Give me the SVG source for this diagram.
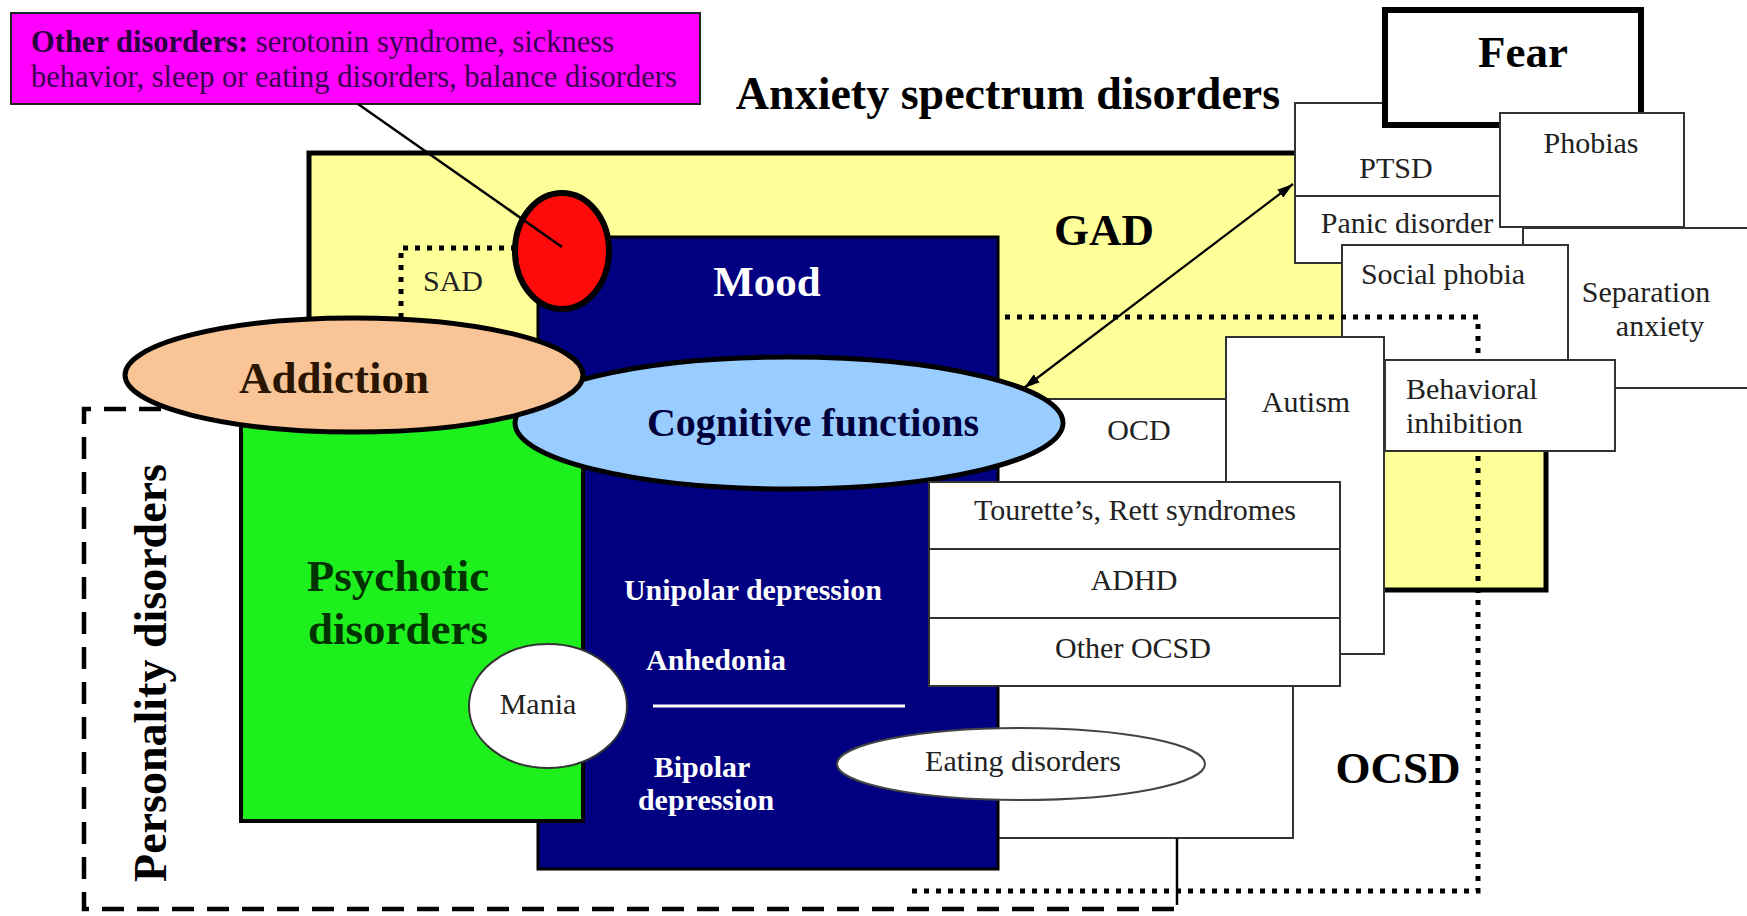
<svg xmlns="http://www.w3.org/2000/svg" width="1747" height="916" viewBox="0 0 1747 916">
<defs>
<style>
text { font-family: "Liberation Serif", "Times New Roman", serif; }
.box { fill: #fff; stroke: #333; stroke-width: 2; }
.t { font-size: 30px; fill: #222; text-anchor: middle; }
.tl { font-size: 30px; fill: #222; }
.big { font-size: 45px; font-weight: bold; text-anchor: middle; fill: #000; }
.w { font-size: 30px; font-weight: bold; fill: #fff; text-anchor: middle; }
.dot { fill: none; stroke: #000; stroke-width: 5; stroke-dasharray: 5 7; }
.dash { fill: none; stroke: #000; stroke-width: 4.5; stroke-dasharray: 22 13; }
</style>
<marker id="ah" viewBox="0 0 16 10" refX="16" refY="5" markerWidth="16" markerHeight="10" markerUnits="userSpaceOnUse" orient="auto-start-reverse"><path d="M0,0 L16,5 L0,10 z" fill="#000"/></marker>
</defs>
<rect width="1747" height="916" fill="#fff"/>

<g id="personality">
<path class="dash" d="M1174,909 H84 V409 H200"/>
<text class="big" font-size="46" style="font-size:46px" transform="translate(166,673) rotate(-90)">Personality disorders</text>
</g>

<g id="gad">
<rect x="309" y="153" width="1237" height="437" fill="#FFFF99" stroke="#000" stroke-width="5"/>
<text class="big" x="1104" y="245">GAD</text>
</g>

<g id="sad">
<path class="dot" d="M540,248 H401 V345"/>
<text class="t" x="453" y="291">SAD</text>
</g>

<g id="separation">
<rect class="box" x="1480" y="228" width="290" height="160"/>
<text class="t" x="1646" y="302">Separation</text>
<text class="t" x="1660" y="336">anxiety</text>
</g>
<g id="ptsd">
<rect class="box" x="1295" y="103" width="215" height="93"/>
<text class="t" x="1396" y="178">PTSD</text>
</g>
<g id="panic">
<rect class="box" x="1295" y="196" width="228" height="67"/>
<text class="t" x="1407" y="233">Panic disorder</text>
</g>
<g id="fear">
<rect x="1385" y="10" width="256" height="115" fill="#fff" stroke="#000" stroke-width="6"/>
<text class="big" x="1523" y="67">Fear</text>
</g>
<g id="phobias">
<rect class="box" x="1500" y="113" width="184" height="114"/>
<text class="t" x="1591" y="153">Phobias</text>
</g>
<g id="social">
<rect class="box" x="1342" y="245" width="226" height="125"/>
<text class="t" x="1443" y="284">Social phobia</text>
</g>

<g id="ocsd">
<path class="dot" d="M1005,317 H1478 V891 H905"/>
<text class="big" x="1398" y="783">OCSD</text>
</g>

<g id="ocd">
<rect class="box" x="990" y="399" width="303" height="439"/>
<line x1="1177" y1="838" x2="1177" y2="905" stroke="#000" stroke-width="2.5"/>
<text class="t" x="1139" y="440">OCD</text>
</g>

<g id="autism">
<rect class="box" x="1226" y="337" width="158" height="317"/>
<text class="t" x="1306" y="412">Autism</text>
</g>
<g id="behavioral">
<rect class="box" x="1385" y="360" width="230" height="91"/>
<text class="tl" x="1406" y="399">Behavioral</text>
<text class="tl" x="1406" y="433">inhibition</text>
</g>

<g id="mood">
<rect x="538" y="237" width="460" height="632" fill="#000080" stroke="#000" stroke-width="3"/>
<text x="767" y="296" font-size="43" font-weight="bold" fill="#fff" text-anchor="middle">Mood</text>
<text class="w" x="753" y="600">Unipolar depression</text>
<text class="w" x="716" y="670">Anhedonia</text>
<line x1="653" y1="706" x2="905" y2="706" stroke="#fff" stroke-width="3"/>
<text class="w" x="702" y="777">Bipolar</text>
<text class="w" x="706" y="810">depression</text>
</g>

<g id="psychotic">
<rect x="241" y="409" width="342" height="412" fill="#1EF01E" stroke="#000" stroke-width="4"/>
<text class="big" x="398" y="591" style="fill:#003300">Psychotic</text>
<text class="big" x="398" y="644" style="fill:#003300">disorders</text>
</g>

<g id="other-marker">
<ellipse cx="562" cy="251" rx="47" ry="58" fill="#FF0A0A" stroke="#000" stroke-width="6"/>
</g>

<g id="cognitive">
<ellipse cx="789" cy="423" rx="274" ry="66" fill="#99CCFF" stroke="#000" stroke-width="5"/>
<text x="813" y="436" font-size="40" font-weight="bold" fill="#00003a" text-anchor="middle">Cognitive functions</text>
</g>

<g id="addiction">
<ellipse cx="354" cy="375" rx="229" ry="57" fill="#F9C597" stroke="#000" stroke-width="5"/>
<text class="big" x="334" y="393" style="fill:#2a1500">Addiction</text>
</g>

<g id="tourette">
<rect class="box" x="929" y="482" width="411" height="67"/>
<text class="t" x="1135" y="520">Tourette’s, Rett syndromes</text>
</g>
<g id="adhd">
<rect class="box" x="929" y="549" width="411" height="69"/>
<text class="t" x="1134" y="590">ADHD</text>
</g>
<g id="other-ocsd">
<rect class="box" x="929" y="618" width="411" height="68"/>
<text class="t" x="1133" y="658">Other OCSD</text>
</g>

<g id="eating">
<ellipse cx="1021" cy="764" rx="184" ry="36" fill="#fff" stroke="#444" stroke-width="2"/>
<text class="t" x="1023" y="771">Eating disorders</text>
</g>

<g id="mania">
<ellipse cx="548" cy="706" rx="79" ry="62" fill="#fff" stroke="#333" stroke-width="2"/>
<text class="t" x="538" y="714">Mania</text>
</g>

<g id="other-disorders">
<rect x="11" y="13" width="689" height="91" fill="#FF00FF" stroke="#222" stroke-width="2"/>
<text x="31" y="52" font-size="30.5" fill="#3a0050"><tspan font-weight="bold" fill="#2a0040">Other disorders:</tspan> serotonin syndrome, sickness</text>
<text x="31" y="87" font-size="30.5" fill="#3a0050">behavior, sleep or eating disorders, balance disorders</text>
</g>

<g id="title">
<text class="big" x="1008" y="109" style="font-size:46px">Anxiety spectrum disorders</text>
</g>

<g id="connectors">
<line x1="358" y1="104" x2="562" y2="247" stroke="#000" stroke-width="2.5"/>
<line x1="1024" y1="388" x2="1293" y2="184" stroke="#000" stroke-width="2.2" marker-start="url(#ah)" marker-end="url(#ah)"/>
</g>
</svg>
